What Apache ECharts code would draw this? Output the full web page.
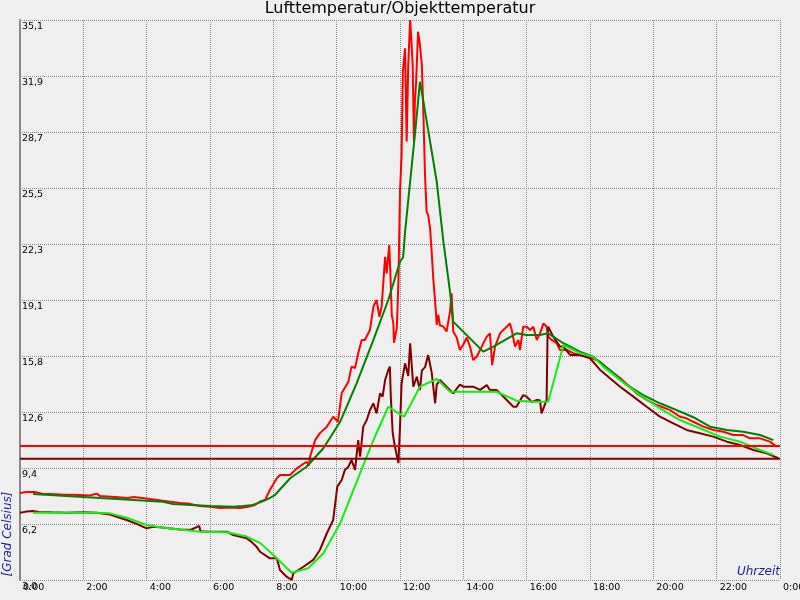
<!DOCTYPE html>
<html>
<head>
<meta charset="utf-8">
<script src="https://cdn.jsdelivr.net/npm/echarts@6/dist/echarts.min.js"></script>
<style>html,body{margin:0;padding:0;background:#efefef}#chart{width:800px;height:600px}</style>
</head>
<body>
<div id="chart"></div>
<script>
// time in hours, temperature in °C
const airTemp = [
[0.0,7.99],[0.2,8.05],[0.47,8.04],[0.7,7.95],[0.95,7.93],[1.3,7.9],[1.89,7.87],[2.2,7.84],[2.42,7.95],[2.53,7.81],
[3.0,7.76],[3.4,7.7],[3.6,7.76],[4.11,7.64],[4.5,7.55],[5.05,7.41],[5.3,7.38],[5.68,7.24],[6.0,7.2],[6.32,7.13],
[6.6,7.16],[6.95,7.13],[7.2,7.2],[7.42,7.3],[7.58,7.5],[7.74,7.59],[7.89,8.16],[8.11,8.83],[8.21,9.02],[8.53,9.02],
[8.74,9.4],[9.05,9.78],[9.12,9.55],[9.16,10.07],[9.32,11.02],[9.47,11.42],[9.69,11.79],[9.89,12.36],[10.04,12.07],[10.16,13.72],
[10.37,14.37],[10.47,15.23],[10.58,15.15],[10.68,16.0],[10.79,16.76],[10.89,16.76],[11.05,17.33],[11.16,18.67],[11.26,19.05],[11.35,18.09],
[11.42,18.67],[11.53,21.53],[11.58,20.58],[11.63,21.6],[11.66,22.2],[11.7,20.39],[11.74,18.19],[11.79,17.71],[11.81,16.6],[11.84,16.57],
[11.9,17.45],[11.95,20.1],[12.0,25.26],[12.05,27.36],[12.09,32.14],[12.16,33.48],[12.21,28.13],[12.26,32.52],[12.32,35.1],[12.35,34.25],
[12.4,32.52],[12.44,28.13],[12.47,30.42],[12.51,31.57],[12.57,34.43],[12.63,33.67],[12.69,32.52],[12.74,29.65],[12.79,26.2],[12.84,24.12],
[12.89,23.92],[12.95,23.16],[13.0,21.8],[13.05,20.29],[13.11,18.95],[13.16,17.62],[13.21,18.19],[13.26,17.6],[13.37,17.52],[13.47,17.24],
[13.58,18.38],[13.63,19.43],[13.68,17.24],[13.79,16.9],[13.89,16.18],[14.0,16.5],[14.11,16.9],[14.21,16.38],[14.31,15.61],[14.42,15.8],
[14.53,16.18],[14.63,16.57],[14.74,16.95],[14.84,17.14],[14.91,15.32],[15.0,16.38],[15.16,17.14],[15.26,17.33],[15.37,17.52],[15.47,17.71],
[15.53,17.33],[15.63,16.38],[15.74,16.76],[15.79,16.18],[15.89,17.52],[16.0,17.52],[16.11,17.33],[16.21,17.52],[16.32,16.76],[16.42,17.14],
[16.53,17.71],[16.58,17.81],[16.63,17.52],[16.68,16.95],[16.79,16.76],[16.95,16.57],[17.05,16.18],[17.26,16.2],[17.47,16.0],[17.68,15.9],
[18.0,15.78],[18.32,15.5],[18.63,15.0],[18.95,14.58],[19.26,14.06],[19.47,13.7],[19.79,13.32],[20.11,13.03],[20.53,12.74],[20.84,12.36],
[21.05,12.27],[21.26,12.07],[21.58,11.79],[21.89,11.6],[22.21,11.5],[22.53,11.31],[22.84,11.31],[23.05,11.12],[23.37,11.12],[23.68,10.93],
[23.9,10.64]
];
const objectTemp = [
[0.0,6.86],[0.2,6.92],[0.41,6.96],[0.6,6.9],[1.0,6.88],[1.47,6.86],[2.0,6.88],[2.42,6.86],[2.84,6.75],[3.1,6.6],
[3.37,6.44],[3.7,6.2],[4.0,5.96],[4.2,6.05],[4.42,6.02],[5.05,5.9],[5.4,5.88],[5.66,6.1],[5.7,5.8],[6.0,5.77],
[6.53,5.77],[6.73,5.58],[7.16,5.39],[7.3,5.2],[7.47,4.91],[7.58,4.62],[7.89,4.24],[8.11,4.24],[8.21,3.57],[8.42,3.19],
[8.58,3.0],[8.63,3.38],[8.95,3.76],[9.26,4.15],[9.47,4.72],[9.69,5.68],[9.89,6.44],[10.02,8.35],[10.16,8.73],[10.26,9.31],
[10.37,9.49],[10.47,9.88],[10.58,9.31],[10.68,11.02],[10.74,10.07],[10.84,11.79],[10.95,12.17],[11.05,12.74],[11.16,13.13],[11.26,12.55],
[11.37,13.7],[11.45,13.51],[11.53,14.46],[11.63,15.04],[11.68,15.23],[11.71,13.51],
[11.77,11.41],[11.84,10.64],[11.95,9.7],[12.0,11.79],[12.05,14.27],[12.16,15.42],[12.26,14.7],[12.32,16.57],[12.42,14.08],[12.53,14.65],
[12.63,13.89],[12.69,15.0],[12.79,15.2],[12.89,15.9],[13.0,14.9],[13.11,13.13],[13.16,14.2],[13.26,14.46],[13.47,14.08],[13.68,13.7],[13.89,14.2],[14.0,14.08],
[14.31,14.08],[14.53,13.9],[14.74,14.17],[14.84,13.89],[15.05,13.89],[15.16,13.7],[15.37,13.32],[15.47,13.13],[15.58,12.93],[15.68,12.93],
[15.89,13.6],[16.0,13.51],[16.16,13.2],[16.32,13.32],[16.42,13.3],[16.47,12.55],[16.53,12.6],[16.63,13.32],[16.66,17.14],[16.68,17.52],
[16.84,16.95],[17.05,16.38],[17.16,16.38],[17.37,15.9],[17.68,15.9],[18.0,15.71],[18.32,15.04],[18.63,14.56],[18.95,14.08],[19.37,13.51],
[19.79,12.93],[20.21,12.36],[20.63,11.98],[21.05,11.6],[21.47,11.41],[21.89,11.22],[22.32,10.93],[22.74,10.74],[23.16,10.45],[23.58,10.26],
[23.95,9.98]
];
const airSmoothed = [
[0.41,7.93],[2.53,7.7],[4.52,7.49],[4.83,7.36],[6.0,7.24],[6.73,7.2],[7.04,7.24],[7.3,7.28],[7.58,7.45],[7.89,7.7],
[8.05,7.87],[8.53,8.83],[9.05,9.49],[9.58,10.55],[10.11,12.07],[10.63,14.27],[11.16,16.76],[11.63,19.05],[12.0,21.24],[12.1,21.5],
[12.16,22.96],[12.32,25.83],[12.47,28.51],[12.58,30.61],[12.63,31.56],[12.74,30.42],[12.95,28.13],[13.16,25.83],[13.37,22.39],[13.58,19.52],
[13.68,17.81],[14.63,16.09],[14.95,16.38],[15.68,17.14],[16.0,17.04],[16.42,17.04],[16.68,17.14],[17.16,16.57],[17.68,16.09],[18.1,15.8],
[18.63,15.04],[19.16,14.18],[19.68,13.6],[20.21,13.13],[20.74,12.74],[21.26,12.33],[21.79,11.79],[22.32,11.6],[22.84,11.5],[23.37,11.31],
[23.79,11.02]
];
const objectSmoothed = [
[0.41,6.86],[2.42,6.86],[2.84,6.82],[3.37,6.57],[4.0,6.15],[4.42,6.02],[5.68,5.77],[6.53,5.74],[7.16,5.49],[7.6,5.1],
[8.0,4.43],[8.58,3.42],[9.1,3.67],[9.58,4.53],[10.11,6.25],[10.74,9.12],[11.16,11.02],[11.63,12.93],[12.13,12.36],[12.63,14.08],
[13.16,14.52],[13.58,13.79],[15.05,13.79],[15.68,13.28],[16.21,13.22],[16.68,13.22],[17.16,16.47],[17.68,16.0],[18.1,15.8],[18.42,15.23],
[18.95,14.46],[19.58,13.6],[20.21,12.84],[20.84,12.17],[21.47,11.7],[22.11,11.22],[22.74,10.93],[23.37,10.45],[23.79,10.17]
];
const airLimit = 10.68;
const objectLimit = 9.95;
const xTickLabels = ['0:00','2:00','4:00','6:00','8:00','10:00','12:00','14:00','16:00','18:00','20:00','22:00','0:00'];
const yTickLabels = ['3,0','6,2','9,4','12,6','15,8','19,1','22,3','25,5','28,7','31,9','35,1'];
const yMin = 3.0, yMax = 35.1;

const chart = echarts.init(document.getElementById('chart'), null, {renderer: 'canvas'});
const dotted = {color: '#8a8a8a', width: 1, type: [1, 1]};
const font = 'DejaVu Sans';
function lineSeries(name, data, color, width) {
  return {name, type: 'line', data, yAxisIndex: 0, symbol: 'none', showSymbol: false,
    lineStyle: {color, width}, itemStyle: {color}, silent: true, animation: false};
}
chart.setOption({
  animation: false,
  backgroundColor: '#efefef',
  title: {text: 'Lufttemperatur/Objekttemperatur', left: 'center', top: 1, padding: 0,
    textStyle: {fontFamily: font, fontSize: 16, fontWeight: 'normal', color: '#000'}},
  grid: {left: 20, right: 20, top: 20, bottom: 20, containLabel: false, outerBoundsMode: 'none'},
  xAxis: {type: 'value', min: 0, max: 24, interval: 2,
    axisLine: {show: false}, axisTick: {show: false},
    splitLine: {show: true, lineStyle: dotted},
    axisLabel: {formatter: v => xTickLabels[Math.round(v / 2)], align: 'left', margin: 3, padding: [0, 0, 0, 3],
      fontFamily: font, fontSize: 9.5, color: '#000', showMinLabel: true, showMaxLabel: true}},
  yAxis: [
    {type: 'value', min: yMin, max: yMax, show: false},
    {type: 'value', min: 0, max: yTickLabels.length - 1, interval: 1, position: 'left',
      axisLine: {show: true, lineStyle: {color: '#8a8a8a', width: 2}}, axisTick: {show: false},
      splitLine: {show: true, lineStyle: dotted},
      axisLabel: {inside: true, formatter: v => yTickLabels[Math.round(v)], verticalAlign: 'top', align: 'left',
        margin: 2, padding: [2, 0, 0, 0], fontFamily: font, fontSize: 9.5, color: '#000', showMinLabel: true, showMaxLabel: true}}
  ],
  series: [
    lineSeries('Lufttemperatur', airTemp, '#ff0000', 2),
    lineSeries('Objekttemperatur', objectTemp, '#800000', 2),
    lineSeries('Lufttemperatur geglättet', airSmoothed, '#008000', 2),
    lineSeries('Objekttemperatur geglättet', objectSmoothed, '#11ee11', 2),
    lineSeries('Grenze Luft', [[0, airLimit], [24, airLimit]], '#ff0000', 2),
    lineSeries('Grenze Objekt', [[0, objectLimit], [24, objectLimit]], '#800000', 2)
  ],
  graphic: [
    {type: 'text', x: 780, y: 572, silent: true,
      style: {text: 'Uhrzeit', align: 'right', verticalAlign: 'middle', fill: '#1e1e9a',
        font: 'italic 12px "DejaVu Sans"'}},
    {type: 'text', x: 8, y: 534, rotation: Math.PI / 2, silent: true,
      style: {text: '[Grad Celsius]', align: 'center', verticalAlign: 'middle', fill: '#1e1e9a',
        font: 'italic 12px "DejaVu Sans"'}}
  ]
});
</script>
</body>
</html>
